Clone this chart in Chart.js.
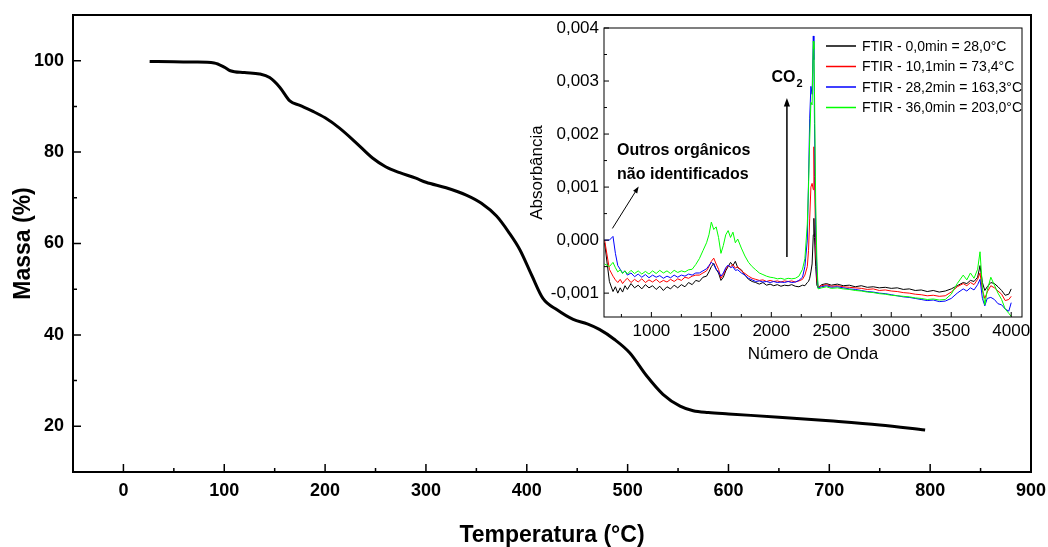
<!DOCTYPE html>
<html>
<head>
<meta charset="utf-8">
<script src="https://cdn.jsdelivr.net/npm/chart.js@4.4.1/dist/chart.umd.min.js"></script>
<style>
  html, body { margin: 0; padding: 0; background: #fff; }
  #wrap { position: relative; width: 1048px; height: 547px; }
  #tga { position: absolute; left: 0; top: 0; }
  #ftir { position: absolute; left: 525px; top: 18px; }
</style>
</head>
<body>
<div id="wrap">
  <canvas id="tga" width="1048" height="547"></canvas>
  <canvas id="ftir" width="505" height="355"></canvas>
</div>
<script>
// main TGA curve
const temps = [26, 50, 70, 90, 100, 106, 120, 135, 145, 155, 165, 175, 188, 200, 214, 230, 247, 260, 274, 290,
  300, 320, 340, 355, 370, 382, 393, 405, 416, 430, 446, 460, 472, 487, 502, 519, 535, 552, 565, 580,
  600, 650, 700, 750, 795];
const massa = [99.85, 99.75, 99.7, 99.5, 98.6, 97.8, 97.4, 97.1, 96.3, 94.2, 91.2, 90.2, 88.9, 87.5, 85.3, 82.2, 78.7, 76.8, 75.5, 74.3,
  73.4, 72.2, 70.6, 68.8, 66.0, 62.5, 58.7, 53.0, 48.0, 45.5, 43.4, 42.4, 41.2, 39.0, 36.1, 31.0, 27.0, 24.4, 23.4, 23.0,
  22.7, 22.0, 21.2, 20.3, 19.2];
const tempTicks = [0, 100, 200, 300, 400, 500, 600, 700, 800, 900];
const tempMinor = [50, 150, 250, 350, 450, 550, 650, 750, 850];
const massaTicks = [20, 40, 60, 80, 100];
const massaMinor = [30, 50, 70, 90];

// inset FTIR spectra
const wavenumber = [610, 650, 680, 700, 720, 740, 760, 780, 800, 830,
  860, 890, 920, 950, 980, 1010, 1040, 1070, 1100, 1130,
  1160, 1190, 1220, 1250, 1280, 1310, 1340, 1370, 1400, 1430,
  1460, 1480, 1500, 1520, 1540, 1560, 1580, 1600, 1620, 1640,
  1660, 1680, 1700, 1720, 1750, 1780, 1810, 1840, 1870, 1900,
  1930, 1960, 1990, 2020, 2050, 2080, 2110, 2140, 2170, 2200,
  2230, 2260, 2280, 2300, 2310, 2320, 2330, 2340, 2350, 2355,
  2360, 2370, 2380, 2390, 2420, 2460, 2500, 2550, 2600, 2650,
  2700, 2750, 2800, 2850, 2900, 2950, 3000, 3050, 3100, 3150,
  3200, 3250, 3300, 3350, 3400, 3450, 3500, 3550, 3600, 3630,
  3660, 3690, 3720, 3740, 3760, 3780, 3800, 3830, 3860, 3890,
  3920, 3950, 3980, 4000];
const abs0min = [-0.00005, -0.00078, -0.00097, -0.00088, -0.00100, -0.00090, -0.00098, -0.00086, -0.00093, -0.00082,
  -0.00090, -0.00085, -0.00092, -0.00084, -0.00090, -0.00086, -0.00093, -0.00087, -0.00095, -0.00088,
  -0.00092, -0.00085, -0.00090, -0.00084, -0.00088, -0.00080, -0.00084, -0.00076, -0.00078, -0.00070,
  -0.00068, -0.00060, -0.00050, -0.00044, -0.00055, -0.00062, -0.00076, -0.00070, -0.00058, -0.00050,
  -0.00042, -0.00048, -0.00040, -0.00052, -0.00056, -0.00066, -0.00074, -0.00078, -0.00080, -0.00083,
  -0.00080, -0.00085, -0.00083, -0.00086, -0.00084, -0.00087, -0.00085, -0.00086, -0.00084, -0.00087,
  -0.00088, -0.00085, -0.00086, -0.00080, -0.00078, -0.00072, -0.00060, -0.00045, 0.00010, 0.00041,
  0.00005, -0.00050, -0.00085, -0.00090, -0.00084, -0.00082, -0.00085, -0.00083, -0.00086, -0.00085,
  -0.00088, -0.00086, -0.00089, -0.00088, -0.00090, -0.00089, -0.00091, -0.00090, -0.00093, -0.00092,
  -0.00095, -0.00094, -0.00097, -0.00095, -0.00098, -0.00096, -0.00092, -0.00086, -0.00080, -0.00082,
  -0.00076, -0.00078, -0.00070, -0.00048, -0.00080, -0.00095, -0.00088, -0.00080, -0.00082, -0.00088,
  -0.00095, -0.00104, -0.00102, -0.00092];
const abs10min = [0.00000, -0.00055, -0.00068, -0.00075, -0.00080, -0.00074, -0.00082, -0.00076, -0.00072, -0.00080,
  -0.00074, -0.00079, -0.00073, -0.00080, -0.00075, -0.00079, -0.00074, -0.00080, -0.00076, -0.00079,
  -0.00074, -0.00078, -0.00073, -0.00076, -0.00070, -0.00072, -0.00068, -0.00066, -0.00066, -0.00062,
  -0.00058, -0.00050, -0.00040, -0.00034, -0.00045, -0.00055, -0.00072, -0.00065, -0.00055, -0.00048,
  -0.00050, -0.00046, -0.00053, -0.00050, -0.00058, -0.00063, -0.00068, -0.00072, -0.00074, -0.00076,
  -0.00075, -0.00078, -0.00076, -0.00078, -0.00077, -0.00079, -0.00077, -0.00078, -0.00077, -0.00079,
  -0.00077, -0.00074, -0.00066, -0.00050, -0.00020, 0.00040, 0.00100, 0.00107, 0.00095, 0.00176,
  0.00120, -0.00010, -0.00075, -0.00088, -0.00086, -0.00084, -0.00087, -0.00086, -0.00088, -0.00089,
  -0.00090, -0.00091, -0.00093, -0.00092, -0.00095, -0.00094, -0.00096, -0.00097, -0.00099, -0.00100,
  -0.00102, -0.00103, -0.00105, -0.00104, -0.00106, -0.00105, -0.00098, -0.00088, -0.00082, -0.00086,
  -0.00080, -0.00084, -0.00074, -0.00062, -0.00095, -0.00110, -0.00098, -0.00086, -0.00090, -0.00096,
  -0.00102, -0.00114, -0.00112, -0.00106];
const abs28min = [0.00000, 0.00000, 0.00007, -0.00025, -0.00048, -0.00055, -0.00062, -0.00058, -0.00066, -0.00062,
  -0.00069, -0.00064, -0.00070, -0.00065, -0.00071, -0.00066, -0.00070, -0.00067, -0.00072, -0.00068,
  -0.00071, -0.00066, -0.00070, -0.00066, -0.00068, -0.00064, -0.00066, -0.00062, -0.00062, -0.00058,
  -0.00054, -0.00048, -0.00042, -0.00046, -0.00055, -0.00060, -0.00068, -0.00062, -0.00052, -0.00047,
  -0.00052, -0.00050, -0.00057, -0.00056, -0.00062, -0.00066, -0.00072, -0.00075, -0.00078, -0.00077,
  -0.00079, -0.00078, -0.00080, -0.00078, -0.00080, -0.00079, -0.00080, -0.00078, -0.00080, -0.00079,
  -0.00076, -0.00070, -0.00050, 0.00000, 0.00110, 0.00230, 0.00290, 0.00275, 0.00385, 0.00340,
  0.00220, 0.00030, -0.00060, -0.00090, -0.00088, -0.00086, -0.00089, -0.00088, -0.00090, -0.00092,
  -0.00093, -0.00095, -0.00097, -0.00098, -0.00100, -0.00101, -0.00103, -0.00105, -0.00107, -0.00108,
  -0.00110, -0.00112, -0.00114, -0.00113, -0.00116, -0.00115, -0.00110, -0.00100, -0.00092, -0.00096,
  -0.00090, -0.00094, -0.00084, -0.00074, -0.00110, -0.00124, -0.00110, -0.00108, -0.00112, -0.00120,
  -0.00122, -0.00130, -0.00134, -0.00118];
const abs36min = [-0.00045, -0.00050, -0.00042, -0.00052, -0.00060, -0.00056, -0.00063, -0.00058, -0.00064, -0.00057,
  -0.00063, -0.00058, -0.00064, -0.00059, -0.00064, -0.00058, -0.00063, -0.00057, -0.00062, -0.00058,
  -0.00063, -0.00057, -0.00061, -0.00058, -0.00060, -0.00056, -0.00055, -0.00046, -0.00035, -0.00020,
  -0.00005, 0.00010, 0.00034, 0.00020, 0.00025, 0.00005, -0.00025, -0.00010, 0.00010, 0.00018,
  0.00005, 0.00015, -0.00005, 0.00002, -0.00015, -0.00030, -0.00042, -0.00050, -0.00056, -0.00062,
  -0.00065, -0.00068, -0.00070, -0.00071, -0.00073, -0.00072, -0.00074, -0.00072, -0.00073, -0.00072,
  -0.00068, -0.00055, -0.00035, 0.00030, 0.00100, 0.00190, 0.00260, 0.00255, 0.00375, 0.00360,
  0.00280, 0.00070, -0.00040, -0.00092, -0.00090, -0.00088, -0.00091, -0.00090, -0.00092, -0.00093,
  -0.00095, -0.00096, -0.00098, -0.00099, -0.00101, -0.00102, -0.00104, -0.00105, -0.00106, -0.00107,
  -0.00109, -0.00110, -0.00112, -0.00111, -0.00113, -0.00112, -0.00102, -0.00082, -0.00066, -0.00075,
  -0.00062, -0.00072, -0.00055, -0.00022, -0.00090, -0.00122, -0.00095, -0.00070, -0.00085, -0.00100,
  -0.00112, -0.00130, -0.00138, -0.00144];
const ftirLabels = ['FTIR - 0,0min = 28,0°C', 'FTIR - 10,1min = 73,4°C', 'FTIR - 28,2min = 163,3°C', 'FTIR - 36,0min = 203,0°C'];
const waveTicks = [1000, 1500, 2000, 2500, 3000, 3500, 4000];
const waveMinor = [750, 1250, 1750, 2250, 2750, 3250, 3750];
const absTicks = [-0.001, 0, 0.001, 0.002, 0.003, 0.004];
const absMinor = [-0.0005, 0.0005, 0.0015, 0.0025, 0.0035];

Chart.defaults.font.family = "'Liberation Sans', Arial, sans-serif";
Chart.defaults.color = '#000';

const toXY = (xs, ys) => xs.map((x, i) => ({ x: x, y: ys[i] }));

// box around the plot + inward ticks
const frameTicks = {
  id: 'frameTicks',
  afterDraw(chart, args, o) {
    const { ctx, chartArea: a } = chart;
    const x = chart.scales.x, y = chart.scales.y;
    ctx.save();
    ctx.strokeStyle = '#000';
    ctx.lineWidth = o.frameWidth;
    ctx.strokeRect(a.left, a.top, a.right - a.left, a.bottom - a.top);
    ctx.lineWidth = o.tickWidth;
    ctx.beginPath();
    const xt = (vals, len) => vals.forEach(v => {
      const p = x.getPixelForValue(v);
      ctx.moveTo(p, a.bottom); ctx.lineTo(p, a.bottom - len);
    });
    const yt = (vals, len) => vals.forEach(v => {
      const p = y.getPixelForValue(v);
      ctx.moveTo(a.left, p); ctx.lineTo(a.left + len, p);
    });
    xt(o.xMajor, o.major); xt(o.xMinor, o.minor);
    yt(o.yMajor, o.major); yt(o.yMinor, o.minor);
    ctx.stroke();
    ctx.restore();
  }
};

function arrow(ctx, x1, y1, x2, y2, head) {
  const ang = Math.atan2(y2 - y1, x2 - x1);
  ctx.beginPath();
  ctx.moveTo(x1, y1);
  ctx.lineTo(x2 - Math.cos(ang) * head * 0.8, y2 - Math.sin(ang) * head * 0.8);
  ctx.stroke();
  ctx.beginPath();
  ctx.moveTo(x2, y2);
  ctx.lineTo(x2 - head * Math.cos(ang - 0.35), y2 - head * Math.sin(ang - 0.35));
  ctx.lineTo(x2 - head * Math.cos(ang + 0.35), y2 - head * Math.sin(ang + 0.35));
  ctx.closePath();
  ctx.fill();
}

// legend and notes of the inset
const insetNotes = {
  id: 'insetNotes',
  afterDraw(chart) {
    const { ctx, chartArea: a } = chart;
    const x = chart.scales.x, y = chart.scales.y;
    const fam = Chart.defaults.font.family;
    ctx.save();
    ctx.fillStyle = '#000';
    ctx.textBaseline = 'middle';
    ctx.font = '14px ' + fam;
    chart.data.datasets.forEach((ds, i) => {
      const ly = a.top + 18 + i * 20.5;
      ctx.strokeStyle = colors[i];
      ctx.lineWidth = 1.5;
      ctx.beginPath();
      ctx.moveTo(a.right - 196, ly); ctx.lineTo(a.right - 166, ly);
      ctx.stroke();
      ctx.fillText(ds.label, a.right - 160, ly + 1);
    });
    ctx.strokeStyle = '#000';
    ctx.textBaseline = 'alphabetic';
    // CO2
    ctx.font = 'bold 16px ' + fam;
    const cx = x.getPixelForValue(2002), cy = y.getPixelForValue(0.00298);
    ctx.fillText('CO', cx, cy);
    const w = ctx.measureText('CO').width;
    ctx.font = 'bold 11px ' + fam;
    ctx.fillText('2', cx + w + 1, cy + 5);
    ctx.lineWidth = 1.5;
    arrow(ctx, x.getPixelForValue(2130), y.getPixelForValue(-0.00032), x.getPixelForValue(2130), y.getPixelForValue(0.00268), 9);
    // other organics
    ctx.font = 'bold 16px ' + fam;
    ctx.fillText('Outros orgânicos', x.getPixelForValue(714), y.getPixelForValue(0.0016));
    ctx.fillText('não identificados', x.getPixelForValue(714), y.getPixelForValue(0.00116));
    ctx.lineWidth = 1;
    arrow(ctx, x.getPixelForValue(675), y.getPixelForValue(0.00022), x.getPixelForValue(894), y.getPixelForValue(0.00101), 7);
    ctx.restore();
  }
};

new Chart(document.getElementById('tga'), {
  type: 'line',
  data: {
    datasets: [{
      data: toXY(temps, massa),
      borderColor: '#000',
      borderWidth: 3,
      pointRadius: 0,
      cubicInterpolationMode: 'monotone',
      fill: false
    }]
  },
  options: {
    responsive: false,
    animation: false,
    events: [],
    layout: { padding: { top: 15, right: 17, left: 0, bottom: 0 } },
    plugins: {
      legend: { display: false },
      tooltip: { enabled: false },
      frameTicks: { frameWidth: 2, tickWidth: 1.5, major: 8, minor: 4,
        xMajor: tempTicks, xMinor: tempMinor, yMajor: massaTicks, yMinor: massaMinor }
    },
    scales: {
      x: {
        type: 'linear', min: -50, max: 900,
        grid: { display: false, drawTicks: false },
        border: { display: false },
        afterBuildTicks: s => { s.ticks = tempTicks.map(v => ({ value: v })); },
        afterFit: s => { s.height = 75; s.paddingLeft = 0; s.paddingRight = 0; },
        ticks: { padding: 8, font: { size: 18, weight: 'bold' }, callback: v => String(v) },
        title: { display: true, text: 'Temperatura (°C)', font: { size: 23, weight: 'bold' }, padding: { top: 0, bottom: -2 } }
      },
      y: {
        min: 10, max: 110,
        grid: { display: false, drawTicks: false },
        border: { display: false },
        afterBuildTicks: s => { s.ticks = massaTicks.map(v => ({ value: v })); },
        afterFit: s => { s.width = 73; s.paddingTop = 0; s.paddingBottom = 0; },
        ticks: { padding: 9, font: { size: 18, weight: 'bold' }, callback: v => String(v) },
        title: { display: true, text: 'Massa (%)', font: { size: 23, weight: 'bold' }, padding: { top: 10, bottom: 0 } }
      }
    }
  },
  plugins: [frameTicks]
});

const colors = ['#000000', '#ff0000', '#0000ff', '#00ff00'];
const series = [abs0min, abs10min, abs28min, abs36min];

new Chart(document.getElementById('ftir'), {
  type: 'line',
  data: {
    datasets: series.map((s, i) => ({
      label: ftirLabels[i],
      data: toXY(wavenumber, s),
      borderColor: colors[i],
      borderWidth: 1,
      pointRadius: 0,
      tension: 0,
      fill: false,
      order: 4 - i
    }))
  },
  options: {
    responsive: false,
    animation: false,
    events: [],
    layout: { padding: { top: 10, right: 8, left: 0, bottom: 0 } },
    plugins: {
      legend: { display: false },
      tooltip: { enabled: false },
      frameTicks: { frameWidth: 1, tickWidth: 1, major: 5, minor: 3,
        xMajor: waveTicks, xMinor: waveMinor, yMajor: absTicks, yMinor: absMinor }
    },
    scales: {
      x: {
        type: 'linear', min: 605, max: 4090,
        grid: { display: false, drawTicks: false },
        border: { display: false },
        afterBuildTicks: s => { s.ticks = waveTicks.map(v => ({ value: v })); },
        afterFit: s => { s.height = 56; s.paddingLeft = 0; s.paddingRight = 0; },
        ticks: { padding: 4, font: { size: 17 }, callback: v => String(v) },
        title: { display: true, text: 'Número de Onda', font: { size: 17 }, padding: { top: 0, bottom: 8 } }
      },
      y: {
        min: -0.00145, max: 0.004,
        grid: { display: false, drawTicks: false },
        border: { display: false },
        afterBuildTicks: s => { s.ticks = absTicks.map(v => ({ value: v })); },
        afterFit: s => { s.width = 79; s.paddingTop = 0; s.paddingBottom = 0; },
        ticks: { padding: 5, font: { size: 17 }, callback: v => v.toFixed(3).replace('.', ',') },
        title: { display: true, text: 'Absorbância', font: { size: 17 }, padding: { top: 2, bottom: 0 } }
      }
    }
  },
  plugins: [frameTicks, insetNotes]
});
</script>
</body>
</html>
